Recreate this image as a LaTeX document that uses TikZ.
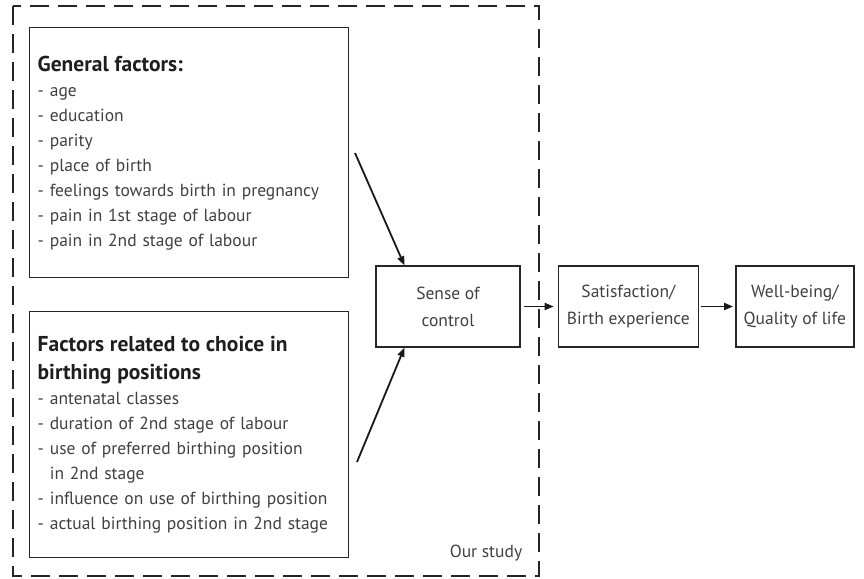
\documentclass[tikz,border=0pt]{standalone}
\usepackage{fontspec}
\setmainfont{PT Sans}
\usetikzlibrary{positioning,arrows.meta,calc}
\definecolor{txtgray}{HTML}{404040}
\definecolor{ttlblack}{HTML}{1E1E1E}
\newcommand{\ttl}[1]{{\fontsize{21.5}{25}\selectfont\bfseries\color{ttlblack}#1}}
\tikzset{
  >={Triangle[length=9pt,width=7pt]},
  facbox/.style={draw=black!85,line width=1.4pt,anchor=north west,align=left,
    text width=303pt,inner xsep=8pt,inner ysep=0pt,minimum width=319pt,
    font=\fontsize{17.5}{25}\selectfont,text=txtgray},
  stepbox/.style={draw=black!85,line width=1.4pt,align=center,minimum height=81pt,
    inner sep=2pt,font=\fontsize{17.5}{27}\selectfont,text=txtgray},
  link/.style={->,line width=1.8pt,black!90},
  studyline/.style={line width=1.3pt,black!85,dash pattern=on 19pt off 9pt},
}
\begin{document}
\begin{tikzpicture}[x=1pt,y=-1pt]
  \useasboundingbox (0,0) rectangle (864,578);
  \draw[studyline] (13,6) rectangle (539,576);
  \node[facbox,minimum height=250pt] (gen) at (29,27) {%
    \ttl{General factors:}\\
    - age\\
    - education\\
    - parity\\
    - place of birth\\
    - feelings towards birth in pregnancy\\
    - pain in 1st stage of labour\\
    - pain in 2nd stage of labour};
  \node[facbox,minimum height=246pt] (pos) at (29,311) {%
    \ttl{Factors related to choice in}\\[3pt]
    \ttl{birthing positions}\\
    - antenatal classes\\
    - duration of 2nd stage of labour\\
    - use of preferred birthing position\\
    \hphantom{-\ }in 2nd stage\\
    - influence on use of birthing position\\
    - actual birthing position in 2nd stage};
  \node[stepbox,minimum width=144pt] (sense) at (448,306.5) {Sense of\\control};
  \node[stepbox,minimum width=140pt,right=37pt of sense] (sat) {Satisfaction/\\Birth experience};
  \node[stepbox,minimum width=118pt,right=36pt of sat] (well) {Well-being/\\Quality of life};
  \node[font=\fontsize{17.5}{20}\selectfont,text=txtgray] (ourlbl) at (486,553) {Our study};
  \coordinate (genout) at (355,153);
  \coordinate (posout) at (357,462);
  \draw[link] (genout) -- ($(sense.north west)!0.2!(sense.north east)$);
  \draw[link] (posout) -- ($(sense.south west)!0.2!(sense.south east)$);
  \draw[link,shorten <=3pt,shorten >=4pt] (sense) -- (sat);
  \draw[link,shorten <=2pt,shorten >=2pt] (sat) -- (well);
\end{tikzpicture}
\end{document}
